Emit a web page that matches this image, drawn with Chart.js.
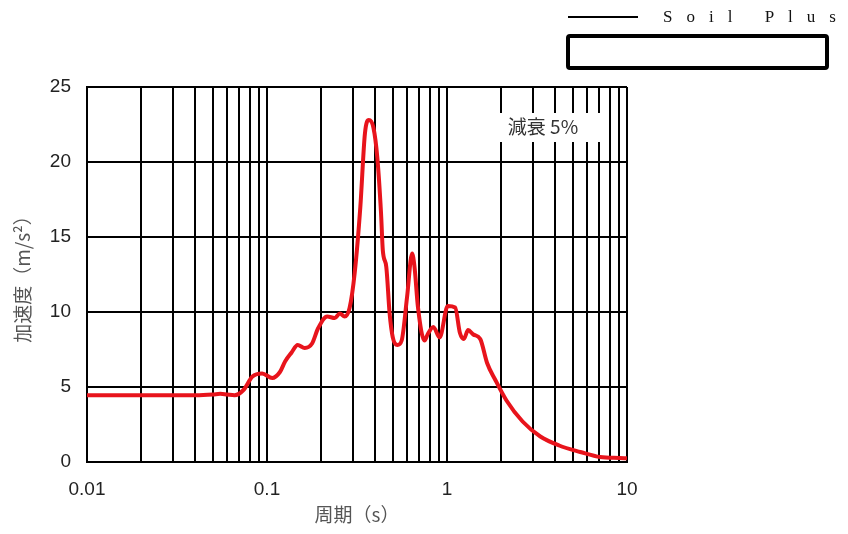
<!DOCTYPE html>
<html>
<head>
<meta charset="utf-8">
<script src="https://cdn.jsdelivr.net/npm/chart.js@4.4.1/dist/chart.umd.min.js"></script>
<style>
  body { margin: 0; background: #fff; }
  #wrap { width: 848px; height: 534px; position: relative; }
</style>
</head>
<body>
<div id="wrap"><canvas id="spectrum"></canvas></div>
<script>
// period (s) and acceleration (m/s2)
var periods = [0.01, 0.02, 0.03, 0.04, 0.05, 0.055, 0.06, 0.066, 0.074, 0.083, 0.094, 0.107, 0.118,
  0.126, 0.137, 0.148, 0.162, 0.178, 0.192, 0.216, 0.238, 0.254, 0.27, 0.288, 0.307, 0.33, 0.35,
  0.368, 0.39, 0.41, 0.43, 0.44, 0.46, 0.48, 0.5, 0.53, 0.56, 0.6, 0.64, 0.66, 0.69, 0.75, 0.78,
  0.84, 0.91, 1.01, 1.11, 1.18, 1.24, 1.31, 1.4, 1.53, 1.67, 1.85, 2.14, 2.63, 3.3, 4.2, 5.5,
  7.1, 9.1, 10];
var accel = [4.45, 4.45, 4.45, 4.45, 4.5, 4.55, 4.5, 4.45, 4.8, 5.7, 5.9, 5.6, 6.0,
  6.7, 7.3, 7.8, 7.6, 7.9, 8.9, 9.7, 9.6, 9.9, 9.7, 10.3, 12.6, 17.0, 21.9,
  22.8, 22.3, 20.3, 16.6, 14.1, 13.0, 9.9, 8.3, 7.8, 8.1, 11.0, 13.9, 13.0, 10.3, 8.1, 8.5,
  9.0, 8.3, 10.4, 10.3, 8.6, 8.2, 8.8, 8.5, 8.2, 6.6, 5.5, 4.1, 2.7, 1.7, 1.1, 0.67,
  0.33, 0.27, 0.25];

var xLabelValues = [0.01, 0.1, 1, 10];
var xLabelText = ['0.01', '0.1', '1', '10'];
var decades = [0.01, 0.1, 1];
var seriesName = 'Soil Plus';
var noteText = '減衰 5%';

// grid ticks at 1..9 of each decade
var gridTicks = [];
decades.forEach(function (d) {
  for (var m = 1; m <= 9; m++) gridTicks.push(Number((m * d).toPrecision(3)));
});
gridTicks.push(10);

var points = periods.map(function (p, i) { return { x: p, y: accel[i] }; });

var extras = {
  id: 'extras',
  afterDraw: function (chart) {
    var ctx = chart.ctx;
    var area = chart.chartArea;
    ctx.save();
    // note box
    ctx.fillStyle = '#fff';
    ctx.fillRect(area.right - 130, area.top + 26, 104, 29);
    ctx.fillStyle = '#333';
    ctx.font = '19px "Noto Sans CJK JP"';
    ctx.textAlign = 'center';
    ctx.textBaseline = 'middle';
    ctx.fillText(noteText, area.right - 84, area.top + 40);
    // legend
    ctx.strokeStyle = '#000';
    ctx.lineWidth = 2;
    ctx.beginPath();
    ctx.moveTo(568, 17);
    ctx.lineTo(638, 17);
    ctx.stroke();
    ctx.fillStyle = '#111';
    ctx.font = '17px "Liberation Serif"';
    ctx.textAlign = 'left';
    ctx.letterSpacing = '14px';
    ctx.fillText(seriesName, 663, 18);
    ctx.letterSpacing = '0px';
    ctx.lineWidth = 4;
    ctx.beginPath();
    ctx.roundRect(568, 36, 259, 32, 2);
    ctx.stroke();
    ctx.restore();
  }
};

new Chart(document.getElementById('spectrum').getContext('2d'), {
  type: 'line',
  data: {
    datasets: [{
      label: seriesName,
      data: points,
      borderColor: '#e8141c',
      borderWidth: 4,
      pointRadius: 0,
      fill: false,
      cubicInterpolationMode: 'monotone'
    }]
  },
  options: {
    responsive: true,
    maintainAspectRatio: false,
    animation: false,
    layout: { padding: { top: 87, right: 221, left: 0, bottom: 0 } },
    plugins: { legend: { display: false }, tooltip: { enabled: false } },
    scales: {
      x: {
        type: 'logarithmic',
        min: 0.01,
        max: 10,
        afterBuildTicks: function (scale) {
          scale.ticks = gridTicks.map(function (v) { return { value: v }; });
        },
        afterFit: function (scale) { scale.height = 72; },
        grid: { color: '#000', lineWidth: 2, drawTicks: false },
        border: { color: '#000', width: 2 },
        ticks: {
          autoSkip: false,
          maxRotation: 0,
          padding: 16,
          color: '#222',
          font: { family: '"Liberation Sans"', size: 19 },
          callback: function (v) {
            var k = xLabelValues.indexOf(Number(Number(v).toPrecision(3)));
            return k >= 0 ? xLabelText[k] : '';
          }
        },
        title: {
          display: true,
          text: '周期（s）',
          color: '#555',
          font: { family: '"Noto Sans CJK JP"', size: 19 },
          padding: { top: 0, bottom: 8 }
        }
      },
      y: {
        min: 0,
        max: 25,
        afterFit: function (scale) { scale.width = 87; },
        grid: { color: '#000', lineWidth: 2, drawTicks: false },
        border: { color: '#000', width: 2 },
        ticks: {
          stepSize: 5,
          padding: 16,
          color: '#222',
          font: { family: '"Liberation Sans"', size: 19 }
        },
        title: {
          display: true,
          text: '加速度（m/s²）',
          color: '#555',
          font: { family: '"Noto Sans CJK JP"', size: 19 },
          padding: { top: 11, bottom: 0 }
        }
      }
    }
  },
  plugins: [extras]
});
</script>
</body>
</html>
